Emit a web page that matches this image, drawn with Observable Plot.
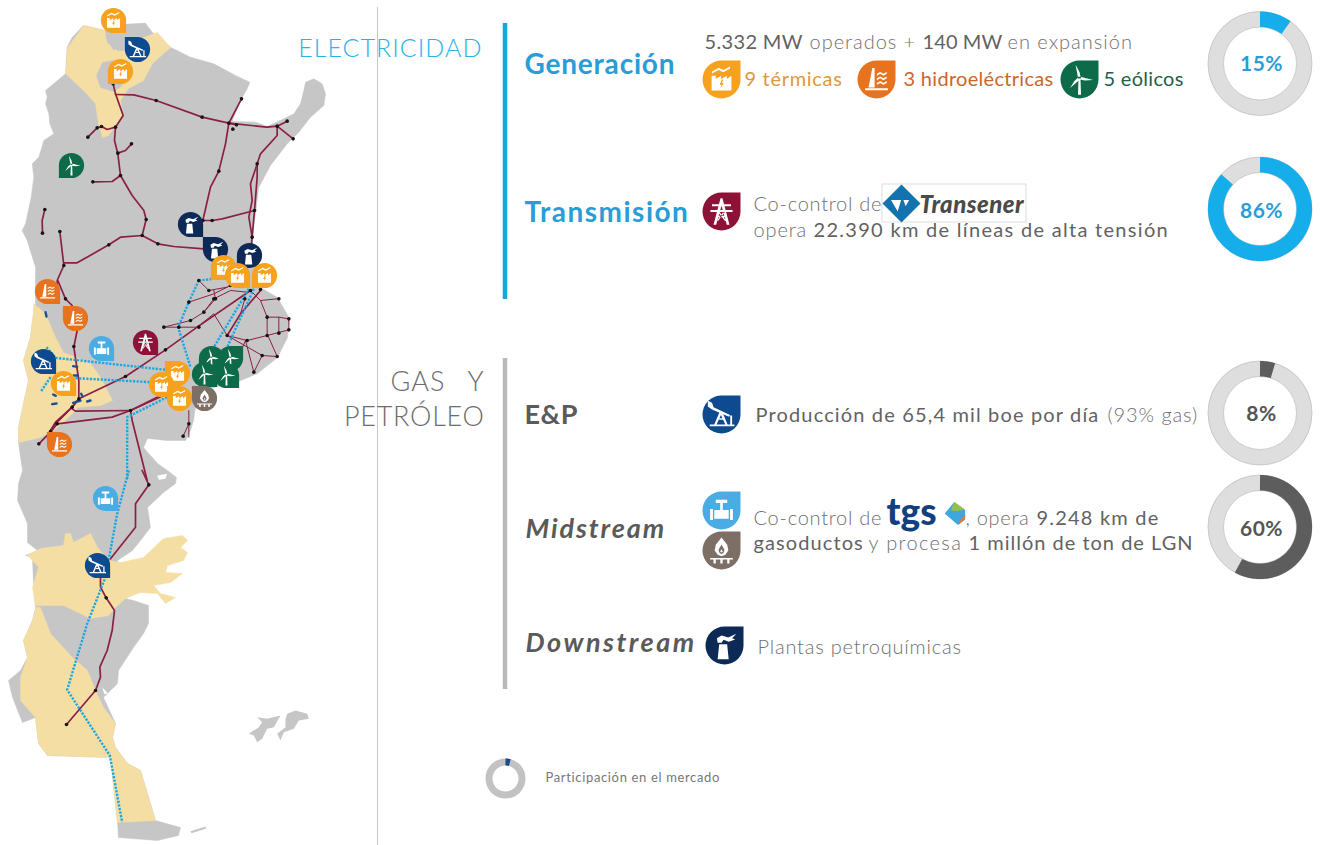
<!DOCTYPE html>
<html lang="es"><head><meta charset="utf-8">
<script src="https://cdn.jsdelivr.net/npm/d3@7"></script>
<script src="https://cdn.jsdelivr.net/npm/@observablehq/plot@0.6"></script>
<style>html,body{margin:0;padding:0;background:#fff}svg{display:block}</style>
</head><body><div id="chart"></div>
<script>
// ---------- values ----------
const shareNames = ["Generación","Transmisión","E&P","Midstream"];
const shareValues = [15,86,8,60];      // printed in the centre of each ring
const shareDrawn = [10,86.5,4.5,58];   // arc length as actually drawn in the picture
const legendShare = [4];
const headings = ["Generación","Transmisión","E&P","Midstream","Downstream"];
const sections = ["ELECTRICIDAD","GAS","Y","PETRÓLEO"];

// ---------- networks and outlines: traced in zoom frames (a: top, b: middle, c: bottom of the map) ----------
const a = p => p.map(([x,y]) => [x/3, y/3]);
const b = p => p.map(([x,y]) => [x/3, y/3 + 270]);
const c = p => p.map(([x,y]) => [x/3, y/3 + 470]);

const country = [...a([[248,75],[315,90],[370,72],[435,68],[455,95],[510,140],[570,170],[640,190],[705,225],[748,245],[740,265],[720,300],[695,362],[765,365],[800,378],[850,355],[880,340],[900,310],[910,270],[915,245],[940,235],[965,250],[975,280],[970,315],[930,350],[895,395],[860,430],[810,495],[775,560],[765,640],[755,710],[765,810]]),
 [260,287],[277,297],[289,318],[287,337],[277,357],[257,373],[233,383],[213,387],[197,393],[193,420],[190,430],[185,440],[167,440],[147,438],[143,447],[157,463],[167,470],[176,477],[175,483],[163,492],[147,507],[150,527],[140,540],[132,550],[117,560],[125,598],[133,600],[148,605],[148,623],[143,633],[133,647],[118,670],[117,683],[103,697],[115,723],[112,737],[115,747],[127,763],[140,770],[155,820],[180,827],[178,835],[157,840],[118,837],[117,822],[110,757],[47,755],[38,743],[35,717],[22,722],[12,697],[8,680],[20,670],[27,657],[23,640],[32,620],[35,607],[33,583],[32,557],[25,555],[37,550],[27,542],[27,523],[17,500],[18,483],[22,470],[18,443],[18,427],[23,403],[28,380],[23,360],[30,337],[32,320],[35,303],
 ...a([[105,800],[80,720],[65,690],[75,670],[92,590],[100,530],[95,490],[115,470],[130,420],[160,400],[148,370],[145,340],[135,310],[140,290],[135,270],[195,220],[200,140],[215,110]])];
const falklands = [c([[770,740],[800,745],[840,735],[820,770],[800,775],[785,805],[770,815],[760,795],[745,790],[775,770],[785,755]]),
 c([[860,730],[885,720],[920,730],[925,745],[895,750],[880,775],[850,785],[840,810],[830,790],[855,770],[855,745]]),
 c([[570,1082],[615,1068],[617,1074],[573,1088]])];
const yellowAreas = [
 [[83,25],[105,30],[105,37],[113,50],[148,35],[157,32],[170,47],[152,63],[143,80],[128,88],[120,100],[122,115],[108,135],[102,137],[98,123],[95,103],[83,90],[65,73],[67,47]],
 [[33,303],[45,313],[55,337],[63,352],[90,363],[100,377],[112,400],[100,405],[77,407],[72,413],[57,427],[47,433],[40,437],[18,442],[18,427],[23,403],[28,380],[23,360],[30,337],[32,320]],
 [[27,555],[40,548],[63,545],[65,533],[70,533],[73,542],[90,533],[97,547],[108,560],[120,562],[143,557],[163,538],[182,535],[187,540],[180,547],[187,552],[183,560],[167,565],[165,572],[182,573],[170,582],[153,585],[160,593],[175,597],[165,603],[157,593],[140,592],[125,598],[115,607],[108,615],[90,618],[80,613],[63,605],[40,605],[35,605],[32,587],[35,577],[38,567]],
 [[35,607],[40,607],[50,633],[70,655],[87,670],[95,690],[103,707],[115,723],[112,737],[115,747],[127,763],[140,770],[155,820],[117,822],[110,757],[47,755],[38,743],[35,717],[20,700],[20,677],[27,657],[23,640],[32,620]]
];
const grayNotches = [
 [[105,30],[107,42],[117,50],[125,50],[127,37],[148,35],[145,23],[123,24]],
 [[113,60],[102,62],[96,75],[100,87],[113,91],[122,85]]
];
const whiteGulfs = [c([[470,15],[500,10],[495,25],[475,28]]), c([[305,650],[322,668],[312,672]])];

const powerLines = [
 a([[338,250],[345,280],[368,345],[345,380],[342,420],[352,460],[360,525],[395,585],[430,630],[437,657],[425,705],[472,730],[520,738],[610,745]]),
 a([[345,282],[400,283],[467,300],[605,350],[685,368],[800,380],[830,377],[860,362]]),
 a([[830,377],[878,415]]),
 a([[830,377],[830,405],[780,460],[770,490],[770,530],[762,630],[755,710],[750,760]]),
 a([[770,490],[750,550],[755,600],[745,650],[755,710]]),
 a([[723,295],[685,368],[675,430],[655,512],[630,560],[607,660]]),
 a([[685,368],[708,373]]),
 a([[262,410],[290,382],[303,378],[320,387],[345,380]]),
 a([[352,458],[375,450],[393,430]]),
 a([[277,544],[335,543],[360,525]]),
 a([[133,627],[125,660],[126,698]]),
 a([[178,693],[190,795],[170,840],[172,870]]),
 a([[190,787],[230,787],[325,733],[360,710],[425,705]]),
 a([[607,660],[635,660],[665,655],[762,630]]),
 b([[172,30],[195,85],[215,105]]),
 b([[230,180],[220,230],[235,330],[235,385],[215,410],[165,460],[150,480]]),
 b([[115,520],[150,485],[170,460],[335,440],[390,420],[500,370]]),
 b([[150,480],[165,455],[215,410],[235,385],[375,318],[495,238],[590,170],[750,60]]),
 b([[215,415],[225,422],[390,420],[395,450],[410,510],[440,630]]),
 c([[425,0],[445,43],[405,100],[405,170],[330,265]]),
 c([[300,320],[300,350],[317,382],[342,420],[335,480],[320,540],[298,590],[300,620],[285,660],[198,762]]),
 b([[390,420],[500,365]]),
 b([[680,195],[720,130],[780,60]])
];
const thinLines = [
 b([[595,30],[625,60],[680,50]]),
 b([[565,95],[640,70],[690,45]]),
 b([[490,170],[570,150],[610,125],[640,85],[690,60],[740,65]]),
 b([[490,170],[535,170],[590,170],[640,130],[680,195],[740,210],[800,195],[865,178],[865,145],[835,140],[800,140],[780,90],[750,60]]),
 b([[780,90],[830,85]]),
 b([[800,140],[800,190],[830,258],[785,255],[760,305],[735,210],[700,290]]),
 b([[835,140],[835,188]]),
 b([[680,195],[785,255]]),
 b([[640,60],[645,85],[610,125]]),
 b([[733,85],[720,130]]),
 b([[565,500],[565,420]]),
 b([[565,460],[548,497]])
];
const gasLines = [
 b([[595,30],[640,25]]),
 b([[595,30],[565,95],[533,170],[570,290]]),
 b([[745,55],[640,230]]),
 b([[760,55],[680,230]]),
 b([[165,262],[495,298]]),
 b([[138,230],[165,262]]),
 b([[150,320],[120,365]]),
 b([[225,323],[450,335]]),
 b([[500,380],[380,440],[380,630]]),
 c([[385,0],[350,130],[315,320],[260,460],[200,658],[328,855],[365,1055]])
];
const oilPatches = [
 b([[218,287],[230,289]]), b([[220,315],[232,315]]), b([[242,370],[246,378]]), b([[158,372],[166,376]]),
 b([[155,401],[168,399]]), b([[218,397],[240,390]]), b([[260,393],[270,390]]), b([[135,125],[138,138]])
];
const nodes = [...a([[338,250],[467,300],[605,350],[685,368],[708,373],[697,386],[830,377],[860,362],[878,415],[723,295],[655,512],[770,490],[762,630],[755,710],[607,660],[635,660],[437,657],[425,705],[472,730],[325,733],[190,795],[178,693],[126,698],[133,627],[277,544],[360,525],[352,458],[393,430],[345,380],[303,378],[290,382],[262,410]]),
 ...b([[195,85],[220,228],[495,238],[375,318],[235,385],[215,410],[170,460],[150,483],[115,520],[390,420],[595,170],[750,60],[780,57],[490,170],[535,170],[570,150],[610,125],[640,85],[595,30],[625,60],[565,95],[645,85],[690,45],[733,85],[800,140],[835,85],[865,145],[865,178],[835,188],[800,195],[740,210],[680,195],[785,255],[830,258],[760,305],[700,290],[565,460],[548,497]]),
 ...c([[445,43],[317,382],[285,660],[198,762]])];

const mapIcons = [
 ["thermal",113,20,"br"],["pump",137,49,"tl"],["thermal",120,71,"bl"],["wind",71,165,"bl"],
 ["petro",190,224,"br"],["petro",215,249,"tl"],["petro",249,255,"bl"],
 ["thermal",223,267,"bl"],["thermal",237,275,"br"],["thermal",264,275,"bl"],
 ["hydro",47,291,"br"],["hydro",75,318,"tl"],["pump",43,361,"br"],["valve",101,348,"br"],["tower",145,342,"br"],
 ["thermal",63,383,"br"],["wind",211,358,"bl"],["wind",230,358,"tr"],["wind",204,374,"br"],["wind",226,375,"br"],
 ["thermal",177,373,"tl"],["thermal",161,384,"br"],["thermal",179,398,"tl"],["gas",204,398,"tl"],
 ["hydro",59,444,"tl"],["valve",105,498,"br"],["pump",97,565,"br"]
];
const keyIcons = [
 ["thermal",721,79,"tr"],["hydro",876,79,"tr"],["wind",1079,79,"tr"],["tower",721,211,"tr"],
 ["pump",721,414,"tr"],["valve",721,510,"tr"],["gas",721,550,"tr"],["petro",724,645,"tr"]
];
const iconColors = {thermal:"#f7a21e",hydro:"#e8731f",wind:"#0e6b4a",tower:"#8d1237",pump:"#0d4a8f",valve:"#4aace4",gas:"#7d6e66",petro:"#0c2a55"};

// ---------- symbols (drawn by Plot.dot, unit = pin radius) ----------
const corners = {tr:[0,1.5,1,-1],br:[.5,2,1,1],bl:[1,2.5,-1,1],tl:[1.5,3,-1,-1]};
const pin = k => ({draw(ctx,size){const s=Math.sqrt(size/Math.PI),[a0,a1,cx,cy]=corners[k];
  ctx.moveTo(s*Math.cos(a0*Math.PI),s*Math.sin(a0*Math.PI));ctx.arc(0,0,s,a0*Math.PI,a1*Math.PI);ctx.lineTo(cx*s,cy*s);ctx.closePath();}});
const poly = P => ({draw(ctx,size){const s=Math.sqrt(size/Math.PI);
  for(const q of P){q.forEach(([x,y],i)=>i?ctx.lineTo(x*s,y*s):ctx.moveTo(x*s,y*s));ctx.closePath();}}});
const blade = deg => {const t=deg*Math.PI/180,R=([x,y])=>[x*Math.cos(t)-y*Math.sin(t),x*Math.sin(t)+y*Math.cos(t)];
  return [[-.07,-.08],[-.02,-.72],[.08,-.3],[.07,-.05]].map(R).map(([x,y])=>[x,y-.08]);};
const glyphs = {
 thermal: poly([[[-.52,.58],[-.52,-.2],[-.3,-.2],[-.3,-.02],[-.02,-.2],[-.02,-.02],[.28,-.2],[.28,-.02],[.52,-.2],[.52,.58]],
   [[.02,.0],[-.1,.28],[0,.28],[-.06,.48],[.12,.18],[.02,.18],[.1,.0]],
   [[-.5,-.42],[-.15,-.62],[.1,-.5],[.45,-.68],[.45,-.58],[.1,-.38],[-.15,-.5],[-.5,-.32]]]),
 hydro: poly([[[-.42,.42],[-.22,-.6],[-.1,-.6],[-.1,.42]],[[-.6,.46],[.6,.46],[.6,.56],[-.6,.56]],
   [[.02,-.3],[.2,-.4],[.36,-.3],[.54,-.4],[.54,-.3],[.36,-.2],[.2,-.3],[.02,-.2]],
   [[.02,-.06],[.2,-.16],[.36,-.06],[.54,-.16],[.54,-.06],[.36,.04],[.2,-.06],[.02,.04]],
   [[.02,.18],[.2,.08],[.36,.18],[.54,.08],[.54,.18],[.36,.28],[.2,.18],[.02,.28]]]),
 wind: poly([blade(-15),blade(100),blade(225),[[-.05,-.05],[.05,-.05],[.08,.8],[-.08,.8]]]),
 pump: poly([[[-.72,-.72],[-.5,-.62],[-.42,-.38],[.45,.02],[.4,.12],[-.5,-.26],[-.72,-.42]],
   [[-.08,-.18],[.02,-.18],[.32,.52],[.2,.52],[-.03,.02],[-.26,.52],[-.38,.52]],
   [[-.12,.2],[.08,.2],[.08,.28],[-.12,.28]],[[.46,.05],[.56,.05],[.56,.52],[.46,.52]],[[-.62,.52],[.68,.52],[.68,.62],[-.62,.62]]]),
 valve: poly([[[-.6,-.08],[-.45,-.08],[-.45,.5],[-.6,.5]],[[-.38,-.02],[.38,-.02],[.38,.44],[-.38,.44]],[[.45,-.08],[.6,-.08],[.6,.5],[.45,.5]],
   [[-.07,-.4],[.07,-.4],[.07,-.02],[-.07,-.02]],[[-.3,-.56],[.3,-.56],[.3,-.4],[-.3,-.4]]]),
 gas: poly([[[0,-.68],[.3,-.3],[.36,0],[.2,.22],[0,.3],[-.2,.22],[-.36,0],[-.3,-.3]],
   [[0,-.32],[-.16,-.02],[-.1,.13],[0,.18],[.1,.13],[.16,-.02]],
   [[.0,-.06],[.07,.05],[0,.1],[-.07,.05]],
   [[-.6,.4],[.6,.4],[.6,.48],[-.6,.48]],[[-.42,.48],[-.3,.48],[-.3,.68],[-.42,.68]],[[-.06,.48],[.06,.48],[.06,.68],[-.06,.68]],[[.3,.48],[.42,.48],[.42,.68],[.3,.68]]]),
 petro: poly([[[-.28,-.06],[.14,-.06],[.22,.72],[-.36,.72]],
   [[-.36,-.14],[-.4,-.38],[-.15,-.52],[.2,-.42],[.62,-.62],[.4,-.38],[.56,-.32],[.22,-.2],[-.05,-.3],[-.15,-.14]]]),
 tower: poly([[[-.05,-.7],[.05,-.7],[.42,.7],[.28,.7],[0,-.3],[-.28,.7],[-.42,.7]],
   [[-.5,-.38],[.5,-.38],[.5,-.28],[-.5,-.28]],[[-.58,-.08],[.58,-.08],[.58,.02],[-.58,.02]],
   [[-.24,.22],[.24,.22],[.24,.3],[-.24,.3]],[[-.18,.02],[-.1,.02],[.26,.5],[.18,.5]],[[.18,.02],[.1,.02],[-.26,.5],[-.18,.5]]])
};

// ---------- helpers ----------
const rows = lines => lines.flatMap((pts,i)=>pts.map(([x,y])=>({x,y,z:i})));
const FONT = "Lato";
const spaced = ls => (i,s,v,d,c,next)=>{const g=next(i,s,v,d,c);g.style.letterSpacing=ls+"px";return g;};
const label = (t,x,y,o={}) => Plot.text([{t,x,y}],{x:"x",y:"y",text:"t",textAnchor:o.anchor??"start",lineAnchor:"middle",
  fontFamily:o.family??FONT,fontSize:o.size??20,fontWeight:o.weight??400,fontStyle:o.italic?"italic":"normal",fill:o.color??"#626262",render:spaced(o.ls??.6)});
const LIGHT = {weight:300,color:"#6f6f6f"};
const icon = r => ([k,x,y,corner]) => [
  Plot.dot([{x,y}],{x:"x",y:"y",r,symbol:pin(corner),fill:iconColors[k]}),
  Plot.dot([{x,y}],{x:"x",y:"y",r,symbol:glyphs[k],fill:"#fff"})];
const arc = (cx,cy,r,v) => d3.range(0,v*3.6+1,1).map(d=>({x:cx+r*Math.sin(d*Math.PI/180),y:cy-r*Math.cos(d*Math.PI/180)}));
const donutLayout = [[1259.5,63,64,"#16aeea","#2a9dd6"],[1259.5,208.5,211,"#16aeea","#2a9dd6"],[1259.5,412.5,414,"#5d5d5d","#555"],[1259.5,526.5,529,"#5d5d5d","#555"]];
const donuts = shareValues.flatMap((v,i)=>{const [cx,cy,ty,col,tcol]=donutLayout[i];return [
  Plot.dot([{x:cx,y:cy}],{x:"x",y:"y",r:44.3,stroke:"#dedede",strokeWidth:15.5}),
  Plot.dot([{x:cx,y:cy}],{x:"x",y:"y",r:52,stroke:"#bdbdbd",strokeWidth:.7}),
  Plot.dot([{x:cx,y:cy}],{x:"x",y:"y",r:36.5,stroke:"#bdbdbd",strokeWidth:.7}),
  Plot.line(arc(cx,cy,44.3,shareDrawn[i]),{x:"x",y:"y",stroke:col,strokeWidth:15.5,strokeLinecap:"butt",curve:"linear"}),
  label(v+"%",cx+1.5,ty,{anchor:"middle",size:21,weight:700,color:tcol,ls:.5})];});

const chart = Plot.plot({
 width:1322,height:845,margin:0,
 x:{domain:[0,1322],range:[0,1322],axis:null},y:{domain:[0,845],range:[0,845],axis:null},
 marks:[
  Plot.line(country,{x:d=>d[0],y:d=>d[1],fill:"#c6c6c6",stroke:"#c6c6c6",strokeWidth:.5,curve:"linear"}),
  Plot.line(rows(falklands),{x:"x",y:"y",z:"z",fill:"#c6c6c6",stroke:"none"}),
  Plot.line(rows(yellowAreas),{x:"x",y:"y",z:"z",fill:"#f5dea3",stroke:"#f5dea3",strokeWidth:.5}),
  Plot.line(rows(grayNotches),{x:"x",y:"y",z:"z",fill:"#c6c6c6",stroke:"#c6c6c6",strokeWidth:.5}),
  Plot.line(rows(whiteGulfs),{x:"x",y:"y",z:"z",fill:"#fff",stroke:"none"}),
  Plot.line(rows(thinLines),{x:"x",y:"y",z:"z",stroke:"#8c1f45",strokeWidth:1,curve:"linear"}),
  Plot.line(rows(powerLines),{x:"x",y:"y",z:"z",stroke:"#8c1f45",strokeWidth:1.7,curve:"linear"}),
  Plot.line(rows(gasLines),{x:"x",y:"y",z:"z",stroke:"#17a8e3",strokeWidth:2.4,strokeDasharray:"2.2,1.4",strokeLinecap:"butt",curve:"linear"}),
  Plot.line(rows(oilPatches),{x:"x",y:"y",z:"z",stroke:"#1d4f94",strokeWidth:2.4,curve:"linear"}),
  Plot.dot(nodes,{x:d=>d[0],y:d=>d[1],r:1.8,fill:"#151515"}),
  ...mapIcons.flatMap(icon(12.6)),

  Plot.ruleX([377],{y1:7,y2:845,stroke:"#c8c8c8",strokeWidth:1}),
  Plot.ruleX([504.5],{y1:23,y2:299,stroke:"#16a5de",strokeWidth:4.5}),
  Plot.ruleX([504.5],{y1:358,y2:689,stroke:"#b9b9b9",strokeWidth:4.5}),

  label(sections[0],482,48,{anchor:"end",size:25,weight:300,color:"#27b3e8",ls:1.05}),
  label(sections[1],445,382,{anchor:"end",size:27,weight:300,color:"#6d6d6d",ls:1}),
  label(sections[2],484,382,{anchor:"end",size:27,weight:300,color:"#6d6d6d",ls:1}),
  label(sections[3],484,417,{anchor:"end",size:27,weight:300,color:"#6d6d6d",ls:.7}),

  label(headings[0],524,65,{size:28,weight:700,color:"#2a9dd6",ls:.8}),
  label(headings[1],524,213,{size:28,weight:700,color:"#2a9dd6",ls:1.5}),
  label(headings[2],524,415,{size:27,weight:700,color:"#5a5a5a"}),
  label(headings[3],525,529,{size:27,weight:700,italic:true,color:"#5a5a5a",ls:1.9}),
  label(headings[4],525,643,{size:27,weight:700,italic:true,color:"#5a5a5a",ls:2.5}),

  ...keyIcons.flatMap(icon(19)),

  label("5.332 MW",704,42,{size:20,ls:.35}),
  label("operados",809,42,{...LIGHT,size:20,ls:1}),
  label("+",903,42,{...LIGHT,size:20}),
  label("140 MW",922,42,{size:20,ls:.1}),
  label("en expansión",1007,42,{...LIGHT,size:20,ls:1}),
  label("9 térmicas",744,79,{size:20,color:"#e0973a",ls:.7}),
  label("3 hidroeléctricas",903,79,{size:20,color:"#c8672c",ls:.3}),
  label("5 eólicos",1103,79,{size:20,color:"#1f5f49",ls:.3}),

  label("Co-control de",753,204,{...LIGHT,size:20,ls:.75}),
  Plot.rect([{a:882,b:1026,c:184,d:222}],{x1:"a",x2:"b",y1:"c",y2:"d",fill:"#fff",stroke:"#d4d4d4",strokeWidth:.8}),
  Plot.dot([{x:901,y:203}],{x:"x",y:"y",r:19,symbol:poly([[[0,-1],[1,0],[0,1],[-1,0]],[[-.55,-.18],[-.2,.42],[-.02,-.18]],[[.1,-.18],[.22,.14],[.4,-.18]]]),fill:"#1273ae"}),
  label("Transener",919,205,{size:24,weight:900,italic:true,color:"#4a4a4a",ls:.45}),
  label("opera",753,230,{...LIGHT,size:20,ls:.9}),
  label("22.390 km de líneas de alta tensión",813,230,{size:20,ls:1.3}),

  label("Producción de 65,4 mil boe por día",755,415,{size:20,ls:1.15}),
  label("(93% gas)",1107,415,{...LIGHT,size:20,ls:.9}),

  label("Co-control de",753,518,{...LIGHT,size:20,ls:.75}),
  label("tgs",886,513,{size:37,weight:900,color:"#12407f",ls:0}),
  Plot.dot([{x:955,y:513}],{x:"x",y:"y",r:12,symbol:poly([[[-.1,-.95],[.8,-.3],[.8,.5],[.2,.95],[-.9,0]]]),fill:"#3fa7df"}),
  Plot.dot([{x:955,y:513}],{x:"x",y:"y",r:12,symbol:poly([[[-.1,-.95],[.75,-.35],[.2,-.2],[-.4,-.25]]]),fill:"#97c04a"}),
  Plot.dot([{x:955,y:513}],{x:"x",y:"y",r:12,symbol:poly([[[.85,.1],[.75,.5],[.25,.95],[.45,.45]]]),fill:"#e7782a"}),
  label(", opera",965,518,{...LIGHT,size:20,ls:.7}),
  label("9.248 km de",1036,518,{size:20,ls:1.2}),
  label("gasoductos",753,543,{size:20,ls:1.1}),
  label("y procesa",868,543,{...LIGHT,size:20,ls:1.35}),
  label("1 millón de ton de LGN",968,543,{size:20,ls:1}),

  label("Plantas petroquímicas",757,647,{...LIGHT,size:20,ls:.8}),

  ...donuts,
  Plot.dot([{x:505,y:778}],{x:"x",y:"y",r:16.5,stroke:"#c2c2c2",strokeWidth:7}),
  Plot.line(arc(505,778,16.5,legendShare[0]),{x:"x",y:"y",stroke:"#1b4a8c",strokeWidth:7,strokeLinecap:"butt"}),
  label("Participación en el mercado",545,777,{size:13,weight:400,color:"#777",ls:.65})
 ]
});
document.getElementById("chart").append(chart);
</script></body></html>
